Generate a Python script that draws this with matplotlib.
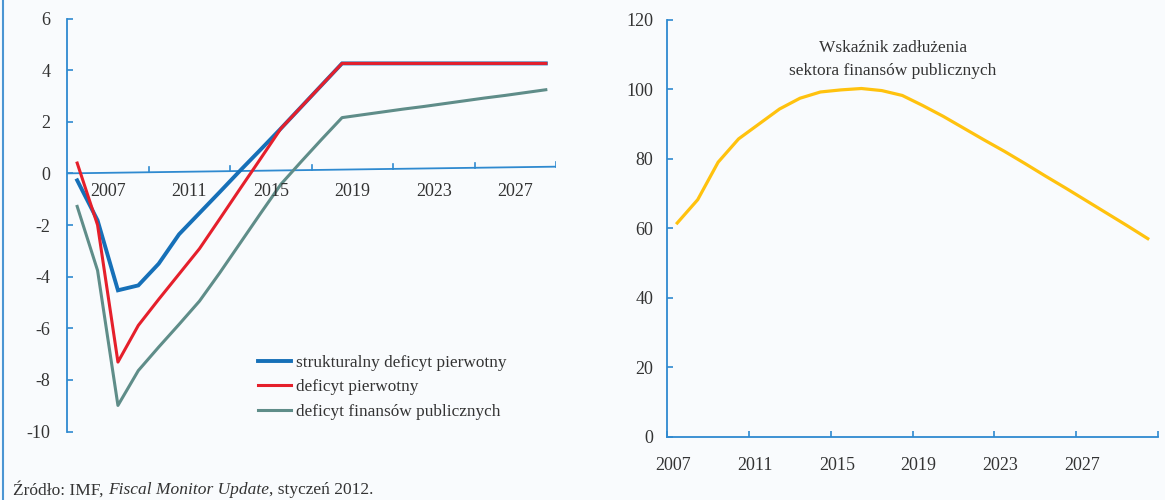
import numpy as np
import matplotlib
matplotlib.use("Agg")
import matplotlib.pyplot as plt
from matplotlib.lines import Line2D

plt.rcParams['font.family'] = ['Liberation Serif', 'DejaVu Serif']
plt.rcParams['axes.unicode_minus'] = False

# dane
years = list(range(2007, 2031))

strukturalny = [-0.27, -1.82, -4.53, -4.34, -3.50, -2.36, -1.54, -0.72, 0.11, 0.92, 1.74,
                2.58, 3.42, 4.26, 4.26, 4.26, 4.26, 4.26, 4.26, 4.26, 4.26, 4.26, 4.26, 4.26]
pierwotny = [0.40, -2.00, -7.31, -5.89, -4.88, -3.90, -2.92, -1.76, -0.59, 0.57, 1.74,
             2.58, 3.42, 4.26, 4.26, 4.26, 4.26, 4.26, 4.26, 4.26, 4.26, 4.26, 4.26, 4.26]
finansow = [-1.28, -3.76, -8.99, -7.64, -6.73, -5.85, -4.95, -3.85, -2.70, -1.55, -0.42,
            0.46, 1.32, 2.16, 2.27, 2.38, 2.49, 2.59, 2.70, 2.81, 2.92, 3.02, 3.13, 3.24]
zadluzenie = [61.5, 68.2, 79.0, 85.7, 90.0, 94.3, 97.4, 99.2, 99.8, 100.2, 99.6,
              98.2, 95.3, 92.2, 88.8, 85.4, 82.1, 78.6, 75.0, 71.5, 67.9, 64.3, 60.7, 57.0]

year_labels = ['2007', '2011', '2015', '2019', '2023', '2027']
tick_pos = np.arange(2006.5, 2031, 4)

axis_blue = '#2f8ad0'
text_col = '#333333'
bg = '#f9fbfd'

fig = plt.figure(figsize=(11.65, 5.0), dpi=100, facecolor=bg)

# ---- lewy wykres
ax1 = fig.add_axes([67 / 1165, 1 - 431.5 / 500, 489 / 1165, 413 / 500])
ax1.set_facecolor(bg)
ax1.plot(years, strukturalny, color='#1670b8', lw=2.8, label='strukturalny deficyt pierwotny',
         solid_joinstyle='miter', zorder=3)
ax1.plot(years, pierwotny, color='#e51f2b', lw=2.2, label='deficyt pierwotny', zorder=4)
ax1.plot(years, finansow, color='#5f8d89', lw=2.2, label='deficyt finansów publicznych', zorder=2)

ax1.set_xlim(2006.5, 2030.5)
ax1.set_ylim(-10, 6)
for s in ['top', 'right', 'bottom']:
    ax1.spines[s].set_visible(False)
ax1.spines['left'].set_color(axis_blue)
ax1.spines['left'].set_linewidth(1.3)
ax1.set_yticks(np.arange(-10, 7, 2))
ax1.tick_params(axis='y', direction='in', length=4, color=axis_blue, width=1.2,
                labelsize=13, labelcolor=text_col, pad=12)
ax1.set_xticks([])

# lekko pochylona oś zero
drift = 0.26
zx = np.array([2006.5, 2030.5])
ax1.plot(zx, drift * (zx - 2006.5) / 24, color=axis_blue, lw=1.3, zorder=1)
for t in tick_pos[1:]:
    base = drift * (t - 2006.5) / 24
    ax1.plot([t, t], [base, base + 0.2], color=axis_blue, lw=1.2, zorder=1)
for t, lab in zip(tick_pos[:-1], year_labels):
    ax1.text(t + 2, -0.7, lab, ha='center', va='center', fontsize=13, color=text_col)

leg = ax1.legend(loc='upper left', bbox_to_anchor=(242 / 1165, 1 - 339 / 500),
                 bbox_transform=fig.transFigure, frameon=False, fontsize=12.4,
                 handlelength=1.95, handletextpad=0.3, labelspacing=0.5)
for t in leg.get_texts():
    t.set_color(text_col)

# ---- prawy wykres
ax2 = fig.add_axes([667 / 1165, 1 - 436.7 / 500, 491 / 1165, 417 / 500])
ax2.set_facecolor(bg)
ax2.plot(years, zadluzenie, color='#ffc20e', lw=2.3)
ax2.set_xlim(2006.5, 2030.5)
ax2.set_ylim(0, 120)
for s in ['top', 'right']:
    ax2.spines[s].set_visible(False)
for s in ['left', 'bottom']:
    ax2.spines[s].set_color(axis_blue)
    ax2.spines[s].set_linewidth(1.3)
ax2.set_yticks(np.arange(0, 121, 20))
ax2.tick_params(axis='y', direction='in', length=4, color=axis_blue, width=1.2,
                labelsize=13, labelcolor=text_col, pad=10)
ax2.set_xticks(tick_pos)
ax2.set_xticklabels([])
ax2.tick_params(axis='x', direction='in', length=4, color=axis_blue, width=1.2)
for t, lab in zip(tick_pos[:-1], year_labels):
    ax2.text(t + 0.3, -8.2, lab, ha='center', va='center', fontsize=13, color=text_col)
ax2.text(0.46, 0.905, 'Wskaźnik zadłużenia\nsektora finansów publicznych', transform=ax2.transAxes,
         ha='center', va='center', fontsize=12.5, color=text_col, linespacing=1.55)

# niebieska linia przy lewej krawędzi
fig.add_artist(Line2D([3 / 1165, 3 / 1165], [0, 1], transform=fig.transFigure,
                      color='#4b95d3', lw=1.5))

# źródło
fig.canvas.draw()
r = fig.canvas.get_renderer()
x0 = 13 / 1165
y0 = 1 - 490 / 500
parts = [('Źródło: IMF, ', 'normal'), ('Fiscal Monitor Update', 'italic'), (', styczeń 2012.', 'normal')]
for txt, style in parts:
    t = fig.text(x0, y0, txt, fontsize=12.5, style=style, color=text_col, va='center', ha='left')
    bb = t.get_window_extent(renderer=r)
    x0 += bb.width / fig.bbox.width

fig.savefig('out.png', dpi=100, facecolor=bg)
